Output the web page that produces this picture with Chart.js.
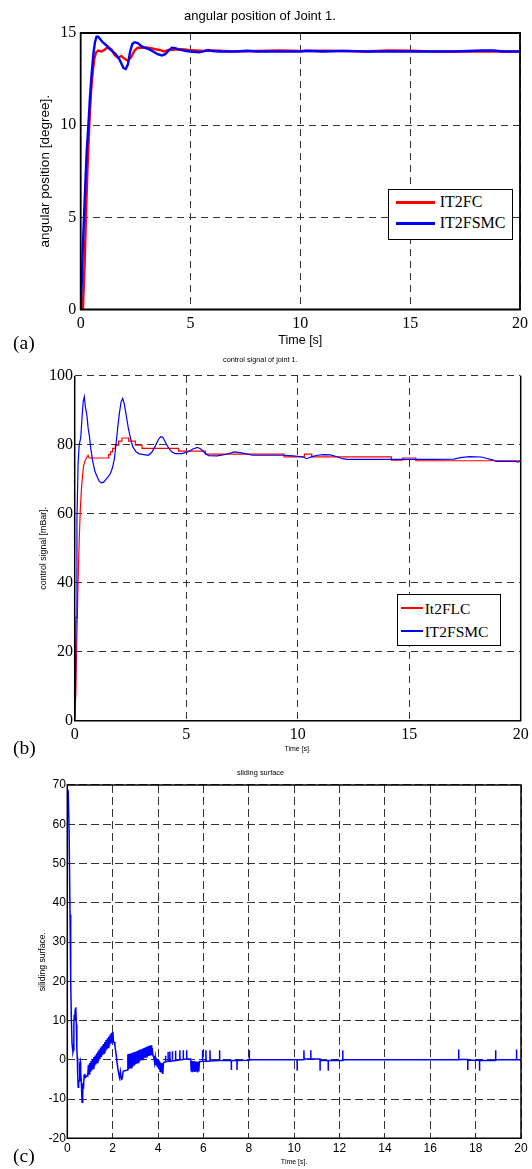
<!DOCTYPE html>
<html>
<head>
<meta charset="utf-8">
<script src="https://cdn.jsdelivr.net/npm/chart.js@4.4.0/dist/chart.umd.min.js"></script>
<style>
html, body { margin: 0; padding: 0; background: #fff; }
#page { position: relative; width: 532px; height: 1169px; overflow: hidden; background: #fff; }
canvas { position: absolute; left: 0; }
.tag { position: absolute; left: 13px; font-family: "Liberation Serif", "Times New Roman", serif; color: #000; white-space: nowrap; }
.legend { position: absolute; box-sizing: border-box; border: 1.3px solid #000; background: #fff; }
.legend .ln { position: absolute; }
.legend .tx { position: absolute; font-family: "Liberation Serif", "Times New Roman", serif; color: #000; white-space: nowrap; }
</style>
</head>
<body>
<div id="page">
  <canvas id="chartA" width="532" height="354" style="top:0px"></canvas>
  <canvas id="chartB" width="532" height="402" style="top:354px"></canvas>
  <canvas id="chartC" width="532" height="413" style="top:756px"></canvas>
  <div class="tag" style="top:333.3px;font-size:19.5px;line-height:19.5px">(a)</div>
  <div class="tag" style="top:737.6px;font-size:19.5px;line-height:19.5px">(b)</div>
  <div class="tag" style="top:1146.3px;font-size:19.5px;line-height:19.5px">(c)</div>
  <div id="legendA" class="legend" style="left:388.3px;top:189px;width:125px;height:51px"></div>
  <div id="legendB" class="legend" style="left:396.7px;top:594.3px;width:104.3px;height:51.7px"></div>
</div>
<script>
const SANS = '"Liberation Sans", Arial, sans-serif';
const SERIF = '"Liberation Serif", "Times New Roman", serif';

// (a) angular position of joint 1  [time s, degree]
const posFC = [[0,0],[0.1,0],[0.18,2.5],[0.25,5.5],[0.32,8],[0.4,10.2],[0.47,11.8],[0.55,12.9],[0.62,13.6],[0.7,13.95],
  [0.8,14.05],[0.95,14.0],[1.1,14.1],[1.25,14.25],[1.4,14.1],[1.55,13.8],[1.7,13.65],[1.85,13.75],[2.0,13.6],[2.15,13.5],
  [2.3,13.7],[2.45,14.05],[2.6,14.2],[2.8,14.2],[3.0,14.22],[3.2,14.18],[3.4,14.12],[3.6,14.08],[3.8,14.0],[4.0,14.08],
  [4.3,14.1],[4.6,14.12],[4.9,14.08],[5.2,14.05],[5.6,14.02],[6.0,14.05],[6.5,14.02],[7,14.0],[8,14.02],[9,14.05],
  [10,14.02],[11,14.04],[12,14.02],[13,14.0],[14,14.06],[15,14.04],[16,14.0],[17,14.0],[18,14.0],[19,14.0],[20,14.0]];
const posSMC = [[0,0],[0.05,1.5],[0.1,3.5],[0.15,5.0],[0.2,6.5],[0.27,8.5],[0.35,10.0],[0.42,11.5],[0.5,12.8],[0.58,13.9],
  [0.65,14.5],[0.72,14.8],[0.8,14.8],[0.9,14.65],[1.0,14.5],[1.15,14.35],[1.3,14.15],[1.45,14.0],[1.6,13.85],[1.75,13.6],
  [1.85,13.35],[1.95,13.1],[2.05,13.05],[2.15,13.3],[2.25,14.0],[2.35,14.4],[2.45,14.5],[2.6,14.45],[2.75,14.3],[2.9,14.2],
  [3.1,14.12],[3.3,14.0],[3.5,13.85],[3.7,13.78],[3.85,13.85],[4.0,14.05],[4.15,14.2],[4.3,14.18],[4.5,14.1],[4.8,14.02],
  [5.1,13.98],[5.4,13.95],[5.6,14.02],[5.8,14.08],[6.0,14.02],[6.3,14.0],[7,14.0],[7.6,14.04],[8,14.0],[9,14.0],
  [10,14.0],[10.3,14.04],[11,14.0],[12,14.03],[13,14.0],[14,14.0],[15,14.0],[16,14.0],[17,14.0],[18.3,14.05],
  [18.8,14.05],[19.2,14.0],[20,14.0]];
const posXTicks = [0, 5, 10, 15, 20];
const posYTicks = [0, 5, 10, 15];

// (b) control signal of joint 1  [time s, mBar]
const sigFLC = [[0,0],[0.05,8],[0.1,25],[0.15,40],[0.2,52],[0.25,61],[0.3,67],[0.35,71],[0.4,74],[0.47,75.5],
  [0.55,76.5],[0.6,77],[0.65,76.2],[1.52,76.2],[1.52,77.2],[1.6,77.2],[1.6,78.0],[1.7,78.0],[1.7,79.0],[1.82,79.0],
  [1.82,79.9],[1.97,79.9],[1.97,81.1],[2.12,81.1],[2.12,82.0],[2.42,82.0],[2.42,81.1],[2.72,81.1],[2.72,79.9],[3.02,79.9],
  [3.02,79.0],[4.66,79.0],[4.66,78.2],[5.86,78.2],[5.86,77.3],[9.39,77.3],[9.39,76.5],[10.3,76.5],[10.3,77.3],[10.63,77.3],
  [10.63,76.5],[14.2,76.5],[14.2,75.6],[14.7,75.6],[14.7,76.2],[15.3,76.2],[15.3,75.4],[20,75.4]];
const sigSMC = [[0,0],[0.03,6],[0.06,30],[0.1,58],[0.15,74],[0.2,80],[0.27,82],[0.33,88],[0.38,92.5],[0.43,94],
  [0.48,91],[0.55,88.5],[0.6,85],[0.66,82.5],[0.72,79],[0.8,75.5],[0.9,72.5],[1.0,70.8],[1.1,69.5],[1.2,69],
  [1.3,69.2],[1.4,70],[1.5,70.8],[1.6,71.7],[1.7,73.5],[1.78,76],[1.85,80],[1.92,84.5],[2.0,89],[2.08,92.5],
  [2.15,93.5],[2.22,92],[2.3,89],[2.4,85],[2.5,82],[2.6,79.5],[2.75,78],[2.9,77.4],[3.1,77.2],[3.3,77.0],
  [3.45,77.8],[3.6,79.5],[3.75,81.5],[3.85,82.4],[3.95,82.2],[4.05,81],[4.2,79.2],[4.35,78],[4.5,77.5],[4.8,77.5],
  [5.1,78],[5.3,78.8],[5.5,79.3],[5.65,78.8],[5.85,77.6],[6.0,76.9],[6.4,76.8],[6.8,77.3],[7.15,78.0],[7.5,77.7],
  [7.97,77.0],[8.5,77.0],[9.34,77.0],[9.8,76.8],[10.25,76.5],[10.4,76.0],[10.63,76.6],[10.9,77.0],[11.16,77.2],[11.47,77.1],
  [11.8,76.5],[12.0,76.0],[12.23,75.8],[13,75.8],[14,75.8],[15,75.8],[16,75.8],[17,75.9],[17.3,76.3],[17.7,76.6],
  [18.23,76.5],[18.77,75.6],[18.92,75.2],[19.75,75.2],[19.9,75.0],[20,75.5]];
const sigXTicks = [0, 5, 10, 15, 20];
const sigYTicks = [0, 20, 40, 60, 80, 100];

// (c) sliding surface  [time s, value]
const surface = [[0,66],[0.02,68.7],[0.04,68.5],[0.08,58],[0.12,37],[0.15,20],[0.18,10],[0.21,4],[0.25,2],[0.27,2.5],
  [0.29,9],[0.31,11.5],[0.33,10],[0.35,13],[0.37,11],[0.38,13.4],[0.4,9],[0.42,3],[0.44,0.6],[0.46,-4],
  [0.48,-7],[0.5,-6],[0.52,-5.3],[0.55,-1],[0.57,-0.5],[0.59,-3],[0.62,-6],[0.65,-10.8],[0.67,-9],[0.69,-6],
  [0.71,-7.5],[0.74,-4],[0.77,-3.6],[0.8,-4.5],[0.85,-4.2],[0.88,-4.0],
  [0.9,-4.1],[0.93,-1.3],[0.96,-3.6],[0.99,-0.8],[1.02,-3.1],[1.05,-0.3],[1.08,-2.7],[1.11,0.2],[1.14,-2.2],[1.17,0.7],
  [1.2,-1.7],[1.23,1.1],[1.26,-1.2],[1.29,1.6],[1.32,-0.7],[1.35,2.1],[1.38,-0.3],[1.41,2.6],[1.44,0.2],[1.47,3.1],
  [1.5,0.7],[1.53,3.5],[1.56,1.2],[1.59,4.0],[1.62,1.7],[1.65,4.5],[1.68,2.1],[1.71,5.0],[1.74,2.6],[1.77,5.5],
  [1.8,3.1],[1.83,5.9],[1.86,3.6],[1.89,6.4],[1.92,4.1],[1.95,6.9],[1.98,4.5],[2.01,7.1],[2.03,5.0],
  [2.06,4.5],[2.1,3.5],[2.15,1.5],[2.2,-1.0],[2.25,-3.0],[2.3,-4.5],[2.34,-3.0],[2.38,-5.0],[2.42,-4.8],[2.46,-3.0],
  [2.5,-2.8],[2.55,-2.8],[2.6,-2.7],[2.64,-2.6],
  [2.67,1.4],[2.7,-2.4],[2.73,1.5],[2.76,-2.2],[2.79,1.6],[2.82,-2.0],[2.85,1.7],[2.88,-1.7],[2.91,1.9],[2.94,-1.5],
  [2.97,2.0],[3.0,-1.2],[3.03,2.1],[3.06,-1.0],[3.09,2.3],[3.12,-0.7],[3.15,2.4],[3.18,-0.4],[3.21,2.6],[3.24,-0.2],
  [3.27,2.7],[3.3,0.1],[3.33,2.9],[3.36,0.3],[3.39,3.0],[3.42,0.5],[3.45,3.2],[3.48,0.7],[3.51,3.3],[3.54,0.9],
  [3.57,3.5],[3.6,1.0],[3.63,3.6],[3.66,1.1],[3.69,3.7],[3.72,1.2],[3.74,3.0],[3.78,1.0],[3.82,0.6],
  [3.85,-0.8],[3.88,0.6],[3.91,-1.4],[3.94,0.3],[3.97,-1.9],[4.0,0.0],[4.03,-2.4],[4.06,-0.4],[4.09,-2.9],[4.12,-0.7],
  [4.15,-3.3],[4.18,-0.9],[4.21,-3.6],[4.24,-0.8],[4.28,-0.6],
  [4.33,-0.5],[4.33,1.0],[4.34,-0.5],[4.44,-0.4],[4.44,2.0],[4.45,-0.4],[4.52,-0.4],[4.52,2.1],[4.53,-0.4],[4.63,-0.3],
  [4.63,2.2],[4.64,-0.3],[4.77,-0.2],[4.77,2.3],[4.78,-0.2],[4.96,0.0],[4.96,2.4],[4.97,0.0],[5.11,0.1],[5.11,2.4],
  [5.12,0.1],[5.26,0.2],[5.26,2.4],[5.27,0.2],[5.44,0.2],
  [5.46,-2.8],[5.48,-0.3],[5.5,-3.0],[5.53,-0.3],[5.56,-2.9],[5.59,-0.4],[5.62,-3.1],[5.65,-0.4],[5.68,-2.8],[5.71,-0.5],
  [5.74,-3.2],[5.77,-0.5],[5.8,-3.0],[5.82,-0.5],
  [5.96,-0.4],[5.96,2.4],[5.97,-0.4],[6.11,-0.4],[6.11,2.4],[6.12,-0.4],[6.29,-0.3],[6.29,2.4],[6.3,-0.3],[6.71,-0.2],
  [6.71,2.4],[6.72,-0.2],[7.23,-0.2],[7.23,-2.6],[7.24,-0.2],[7.48,-0.2],[7.48,-2.6],[7.49,-0.2],[8.02,-0.1],[8.02,2.4],
  [8.03,0.0],[10.13,0.0],[10.13,-2.8],[10.14,0.0],[10.43,0.0],[10.43,2.4],[10.44,0.2],[10.73,0.2],[10.73,2.4],[10.74,0.2],
  [11.14,0.2],[11.14,-2.8],[11.15,-0.2],[11.5,-0.2],[11.5,-2.8],[11.51,-0.2],[12.14,-0.2],[12.14,2.4],[12.15,0.0],[17.25,0.0],
  [17.25,2.6],[17.26,0.1],[17.65,0.1],[17.65,-2.6],[17.66,-0.1],[18.17,-0.1],[18.17,-2.8],[18.18,-0.2],[18.88,-0.2],[18.88,2.4],
  [18.89,0.0],[19.8,0.0],[19.8,2.6],[19.81,0.0],[20,0.0]];
const surfXTicks = [0, 2, 4, 6, 8, 10, 12, 14, 16, 18, 20];
const surfYTicks = [-20, -10, 0, 10, 20, 30, 40, 50, 60, 70];

// box around the plot area, MATLAB style
const frame = {
  id: 'frame',
  afterDatasetsDraw(chart, args, opts) {
    const {left, right, top, bottom} = chart.chartArea;
    const c = chart.ctx;
    c.save();
    c.strokeStyle = '#000';
    c.lineWidth = opts.width;
    c.setLineDash([]);
    c.beginPath();
    if (opts.skipTop) {
      c.moveTo(left, top); c.lineTo(left, bottom); c.lineTo(right, bottom); c.lineTo(right, top);
    } else {
      c.rect(left, top, right - left, bottom - top);
    }
    c.stroke();
    c.restore();
  }
};

function panel(id, o) {
  const grid = { color: '#333', lineWidth: 1, drawTicks: false };
  return new Chart(document.getElementById(id), {
    type: 'line',
    data: {
      datasets: o.series.map(s => ({
        label: s.label,
        data: s.points.map(p => ({ x: p[0], y: p[1] })),
        borderColor: s.color,
        borderWidth: o.lineWidth,
        order: s.order,
        pointRadius: 0,
        tension: 0,
        fill: false
      }))
    },
    options: {
      responsive: false,
      animation: false,
      devicePixelRatio: 1,
      layout: { padding: { left: 0, right: o.padRight, top: 0, bottom: 0 } },
      plugins: {
        legend: { display: false },
        tooltip: { enabled: false },
        title: {
          display: true, text: o.title, color: '#000',
          font: { family: SANS, size: o.titleSize, weight: 'normal' },
          padding: o.titlePad
        },
        frame: { width: o.frameWidth, skipTop: o.skipTop }
      },
      scales: {
        x: {
          type: 'linear', min: o.xTicks[0], max: o.xTicks[o.xTicks.length - 1],
          afterBuildTicks: s => { s.ticks = o.xTicks.map(v => ({ value: v })); },
          afterFit: s => { s.height = o.xHeight; s.paddingLeft = 0; s.paddingRight = 0; },
          grid: grid,
          border: { display: false, dash: o.dash },
          ticks: { color: '#000', font: o.tickFont, padding: o.xTickPad, maxRotation: 0, autoSkip: false },
          title: {
            display: true, text: o.xTitle, color: '#000',
            font: { family: SANS, size: o.xTitleSize }, padding: { top: 0, bottom: o.xTitlePad }
          }
        },
        y: {
          type: 'linear', min: o.yTicks[0], max: o.yTicks[o.yTicks.length - 1],
          afterBuildTicks: s => { s.ticks = o.yTicks.map(v => ({ value: v })); },
          afterFit: s => { s.width = o.yWidth; s.paddingTop = 0; s.paddingBottom = 0; },
          grid: grid,
          border: { display: false, dash: o.dash },
          ticks: { color: '#000', font: o.tickFont, padding: o.yTickPad, autoSkip: false },
          title: {
            display: true, text: o.yTitle, color: '#000',
            font: { family: SANS, size: o.yTitleSize }, padding: { top: o.yTitlePad, bottom: 0 }
          }
        }
      }
    },
    plugins: [frame]
  });
}

const seriesA = [
  { label: 'IT2FC', points: posFC, color: '#ff0000', order: 2 },
  { label: 'IT2FSMC', points: posSMC, color: '#0000ff', order: 1 }
];
const seriesB = [
  { label: 'It2FLC', points: sigFLC, color: '#ff0000', order: 2 },
  { label: 'IT2FSMC', points: sigSMC, color: '#0000ff', order: 1 }
];
const seriesC = [
  { label: 'sliding surface', points: surface, color: '#0000ff', order: 1 }
];

panel('chartA', {
  series: seriesA, lineWidth: 2.4, frameWidth: 1.8, skipTop: false, padRight: 12,
  title: 'angular position of Joint 1.', titleSize: 13, titlePad: { top: 8.2, bottom: 9.2 },
  xTicks: posXTicks, yTicks: posYTicks, xHeight: 44.5, yWidth: 80.7,
  tickFont: { family: SERIF, size: 16 }, xTickPad: 4.4, yTickPad: 4.4, dash: [7, 5],
  xTitle: 'Time [s]', xTitleSize: 12.5, xTitlePad: 5.8,
  yTitle: 'angular position [degree].', yTitleSize: 13.5, yTitlePad: 36.9
});

panel('chartB', {
  series: seriesB, lineWidth: 1.2, frameWidth: 1.5, skipTop: true, padRight: 11.3,
  title: 'control signal of joint 1.', titleSize: 7.3, titlePad: { top: 1.6, bottom: 11.6 },
  xTicks: sigXTicks, yTicks: sigYTicks, xHeight: 35.3, yWidth: 74.7,
  tickFont: { family: SERIF, size: 16 }, xTickPad: 4.7, yTickPad: 1.8, dash: [7, 5],
  xTitle: 'Time [s].', xTitleSize: 7, xTitlePad: 2.5,
  yTitle: 'control signal [mBar].', yTitleSize: 8.8, yTitlePad: 38.1
});

panel('chartC', {
  series: seriesC, lineWidth: 1.5, frameWidth: 1.5, skipTop: false, padRight: 11,
  title: 'sliding surface', titleSize: 7.4, titlePad: { top: 12.9, bottom: 7.2 },
  xTicks: surfXTicks, yTicks: surfYTicks, xHeight: 30.7, yWidth: 67.3,
  tickFont: { family: SANS, size: 12 }, xTickPad: 2.8, yTickPad: 1.4, dash: [8, 4],
  xTitle: 'Time [s].', xTitleSize: 7, xTitlePad: 2.5,
  yTitle: 'siliding surface.', yTitleSize: 8.6, yTitlePad: 37
});

// boxed legends, as in the figure
function legend(id, series, o) {
  const box = document.getElementById(id);
  series.forEach((s, i) => {
    const y = Math.round(o.rows[i]);
    const ln = document.createElement('div');
    ln.className = 'ln';
    ln.style.cssText = 'left:' + o.lineX0 + 'px;width:' + (o.lineX1 - o.lineX0) + 'px;top:' + (y - o.lineW / 2) +
      'px;height:' + o.lineW + 'px;background:' + s.color;
    const tx = document.createElement('div');
    tx.className = 'tx';
    tx.textContent = s.label;
    tx.style.cssText = 'left:' + o.textX + 'px;top:' + (y - o.fontSize / 2) + 'px;font-size:' + o.fontSize +
      'px;line-height:' + o.fontSize + 'px';
    box.append(ln, tx);
  });
}
legend('legendA', seriesA, { rows: [12.4, 33], lineX0: 6.4, lineX1: 45.4, lineW: 3, textX: 50.4, fontSize: 16 });
legend('legendB', seriesB, { rows: [12.7, 36.1], lineX0: 3.7, lineX1: 25.3, lineW: 2, textX: 27, fontSize: 15.5 });
</script>
</body>
</html>
